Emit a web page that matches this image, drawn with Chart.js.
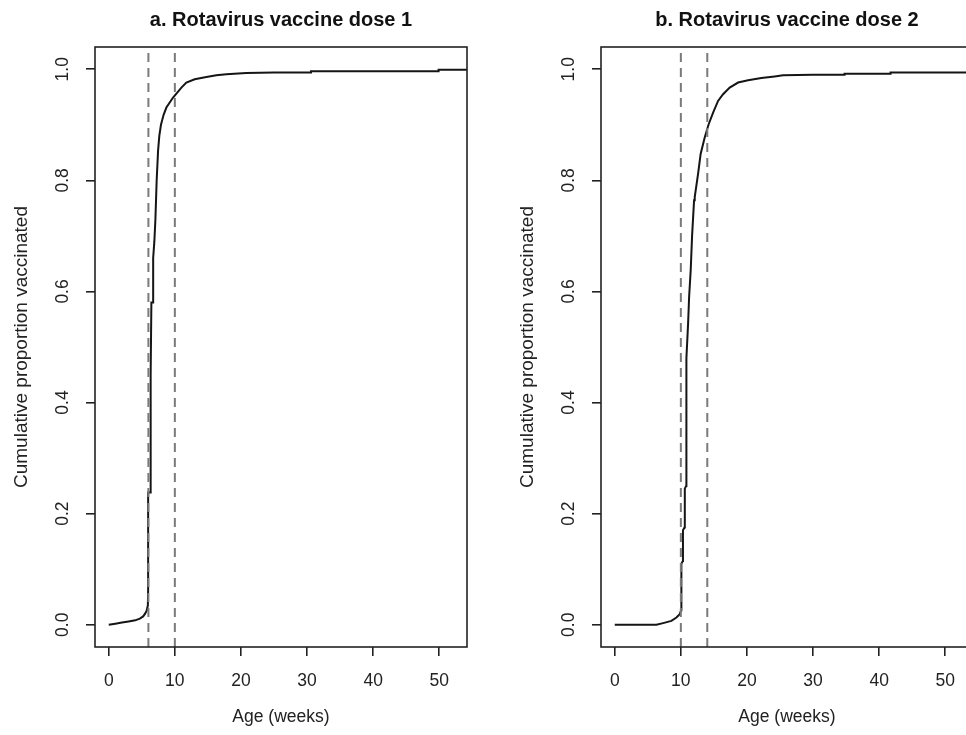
<!DOCTYPE html>
<html>
<head>
<meta charset="utf-8">
<script src="https://cdn.jsdelivr.net/npm/chart.js@4.4.1/dist/chart.umd.min.js"></script>
<style>
  html, body { margin: 0; padding: 0; background: #ffffff; }
  body { width: 966px; height: 735px; overflow: hidden; position: relative; }
  canvas { position: absolute; top: 0; }
  #c1 { left: 0px; }
  #c2 { left: 506px; }
</style>
</head>
<body>
<canvas id="c1" width="500" height="735"></canvas>
<canvas id="c2" width="500" height="735"></canvas>
<script>
// ---- data ----
const panelTitles = ['a. Rotavirus vaccine dose 1', 'b. Rotavirus vaccine dose 2'];
const xAxisTitle = 'Age (weeks)';
const yAxisTitle = 'Cumulative proportion vaccinated';
const xTicks = [0, 10, 20, 30, 40, 50];
const yTicks = [0, 0.2, 0.4, 0.6, 0.8, 1.0];
const xRange = [-2.08, 54.2];
const yRange = [-0.04, 1.04];

const dose1Weeks = [0, 1, 2, 3, 4, 4.7, 5.2, 5.5, 5.75, 5.92, 5.95, 5.96, 6.28, 6.30, 6.38, 6.45, 6.70, 6.72, 6.90, 7.06, 7.25, 7.46, 7.65, 7.9, 8.3, 8.72, 9.73, 10.99, 11.74, 13.0, 14.77, 16.28, 17.79, 20.81, 25, 30.6, 30.6, 49.9, 49.9, 54.2];
const dose1Prop  = [0, 0.002, 0.004, 0.006, 0.008, 0.011, 0.015, 0.020, 0.026, 0.035, 0.06, 0.238, 0.238, 0.33, 0.45, 0.58, 0.58, 0.66, 0.69, 0.73, 0.80, 0.853, 0.880, 0.900, 0.918, 0.931, 0.949, 0.967, 0.976, 0.982, 0.986, 0.989, 0.991, 0.993, 0.994, 0.994, 0.9965, 0.9965, 0.999, 0.999];
const dose1Ref = [6, 10];

const dose2Weeks = [0, 6.3, 7.32, 8.57, 9.33, 9.83, 10.05, 10.08, 10.3, 10.32, 10.55, 10.6, 10.8, 10.84, 11.10, 11.25, 11.49, 11.70, 12.0, 12.10, 12.61, 13.0, 13.61, 14.21, 14.88, 15.63, 16.39, 17.39, 18.66, 20.17, 22.18, 24.19, 25.46, 30, 34.77, 34.77, 41.73, 41.73, 54.2];
const dose2Prop  = [0, 0, 0.003, 0.007, 0.013, 0.019, 0.026, 0.11, 0.115, 0.17, 0.175, 0.245, 0.25, 0.48, 0.543, 0.590, 0.638, 0.700, 0.764, 0.770, 0.812, 0.848, 0.877, 0.901, 0.922, 0.943, 0.955, 0.967, 0.976, 0.980, 0.984, 0.987, 0.989, 0.990, 0.990, 0.992, 0.992, 0.994, 0.994];
const dose2Ref = [10, 14];

// ---- chart building ----
const FONT = "'Liberation Sans', Arial, sans-serif";
const AXIS_COLOR = '#222222';

const boxPlugin = {
  id: 'box',
  afterDraw(chart) {
    const a = chart.chartArea;
    const ctx = chart.ctx;
    ctx.save();
    ctx.strokeStyle = AXIS_COLOR;
    ctx.lineWidth = 1.6;
    ctx.strokeRect(a.left, a.top, a.right - a.left, a.bottom - a.top);
    ctx.restore();
  }
};

function makePanel(canvasId, title, weeks, props, refs) {
  const curve = weeks.map((w, i) => ({ x: w, y: props[i] }));
  const refSets = refs.map(r => ({
    data: [{ x: r, y: yRange[0] }, { x: r, y: yRange[1] }],
    borderColor: '#7a7a7a',
    borderWidth: 2,
    borderDash: [9, 6],
    pointRadius: 0,
    showLine: true,
    fill: false
  }));
  return new Chart(document.getElementById(canvasId), {
    type: 'scatter',
    data: {
      datasets: [
        ...refSets,
        {
          data: curve,
          borderColor: '#151515',
          borderWidth: 2,
          pointRadius: 0,
          showLine: true,
          fill: false,
          tension: 0
        }
      ]
    },
    options: {
      responsive: false,
      animation: false,
      devicePixelRatio: 1,
      layout: { padding: { left: 0, right: 33, top: 0, bottom: 0 } },
      plugins: {
        legend: { display: false },
        tooltip: { enabled: false },
        title: {
          display: true,
          text: title,
          fullSize: false,
          color: '#111',
          font: { family: FONT, size: 20, weight: 'bold', lineHeight: 1.2 },
          padding: { top: 8.5, bottom: 14.5 }
        }
      },
      scales: {
        x: {
          type: 'linear',
          min: xRange[0],
          max: xRange[1],
          afterBuildTicks(scale) { scale.ticks = xTicks.map(v => ({ value: v })); },
          afterFit(scale) { scale.height = 88; },
          border: { display: false },
          grid: { drawOnChartArea: false, drawTicks: true, tickLength: 9, color: AXIS_COLOR, lineWidth: 1.6 },
          ticks: {
            color: '#222',
            padding: 15,
            maxRotation: 0,
            autoSkip: false,
            font: { family: FONT, size: 17.5 },
            callback: v => String(v)
          },
          title: {
            display: true,
            text: xAxisTitle,
            color: '#222',
            font: { family: FONT, size: 17.5 },
            padding: { top: 0, bottom: 7 }
          }
        },
        y: {
          type: 'linear',
          min: yRange[0],
          max: yRange[1],
          afterBuildTicks(scale) { scale.ticks = yTicks.map(v => ({ value: v })); },
          afterFit(scale) { scale.width = 95; },
          border: { display: false },
          grid: { drawOnChartArea: false, drawTicks: true, tickLength: 9, color: AXIS_COLOR, lineWidth: 1.6 },
          ticks: {
            color: '#222',
            padding: 11,
            minRotation: 90,
            maxRotation: 90,
            crossAlign: 'center',
            autoSkip: false,
            font: { family: FONT, size: 17.5 },
            callback: v => v.toFixed(1)
          },
          title: {
            display: true,
            text: yAxisTitle,
            color: '#222',
            font: { family: FONT, size: 19 },
            padding: { top: 10, bottom: 0 }
          }
        }
      }
    },
    plugins: [boxPlugin]
  });
}

makePanel('c1', panelTitles[0], dose1Weeks, dose1Prop, dose1Ref);
makePanel('c2', panelTitles[1], dose2Weeks, dose2Prop, dose2Ref);
</script>
</body>
</html>
